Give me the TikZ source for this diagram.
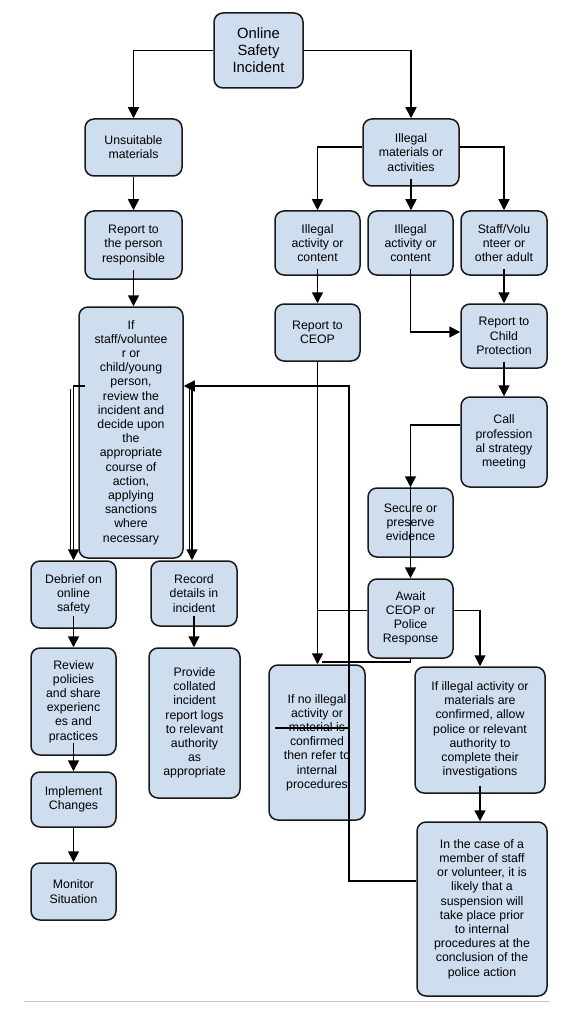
\documentclass[tikz,border=0pt]{standalone}
\usepackage{fontspec}
\setmainfont{Liberation Sans}
\usetikzlibrary{arrows.meta}
\definecolor{boxblue}{RGB}{206,222,239}
\definecolor{edgec}{RGB}{25,25,25}
\begin{document}
\begin{tikzpicture}[x=1pt,y=-1pt,
  box/.style={draw=edgec,fill=boxblue,rounded corners=9pt,line width=1.5pt,align=center,inner sep=0pt,
    font=\fontsize{12.3}{14.2}\selectfont},
  conn/.style={draw=black,line width=1.6pt},
  arr/.style={conn,-{Triangle[length=11pt,width=11pt]}}]
\useasboundingbox (0,0) rectangle (574,1024);
\fill[white] (0,0) rectangle (574,1024);

% nodes
\node[box,minimum width=89pt,minimum height=75pt,font=\fontsize{14.8}{17}\selectfont] (online) at (258.5,50.5) {Online\\Safety\\Incident};
\node[box,minimum width=97pt,minimum height=57pt] (unsuit) at (133.5,147.5) {Unsuitable\\materials};
\node[box,minimum width=96pt,minimum height=67pt] (illmat) at (411,152.5) {Illegal\\materials or\\activities};
\node[box,minimum width=97pt,minimum height=68pt] (report) at (133.5,245) {Report to\\the person\\responsible};
\node[box,minimum width=85pt,minimum height=64pt] (ill1) at (317.5,243) {Illegal\\activity or\\content};
\node[box,minimum width=85pt,minimum height=64pt] (ill2) at (410.5,243) {Illegal\\activity or\\content};
\node[box,minimum width=86pt,minimum height=64pt] (ill3) at (504,243) {Staff/Volu\\nteer or\\other adult};
\node[box,minimum width=85pt,minimum height=57pt] (ceop) at (317.5,332.5) {Report to\\CEOP};
\node[box,minimum width=86pt,minimum height=64pt] (cp) at (504,336) {Report to\\Child\\Protection};
\node[box,minimum width=104pt,minimum height=251pt] (big) at (131,432.5) {If\\staff/voluntee\\r or\\child/young\\person,\\review the\\incident and\\decide upon\\the\\appropriate\\course of\\action,\\applying\\sanctions\\where\\necessary};
\node[box,minimum width=86pt,minimum height=90pt] (call) at (504,442) {Call\\profession\\al strategy\\meeting};
\node[box,minimum width=85pt,minimum height=69pt] (secure) at (410.5,522.5) {Secure or\\preserve\\evidence};
\node[box,minimum width=85pt,minimum height=79pt] (await) at (410.5,618.5) {Await\\CEOP or\\Police\\Response};
\node[box,minimum width=85pt,minimum height=67pt] (debrief) at (73.5,594.5) {Debrief on\\online\\safety};
\node[box,minimum width=86pt,minimum height=65pt] (record) at (194,593.5) {Record\\details in\\incident};
\node[box,minimum width=85pt,minimum height=107pt] (review) at (73.5,701.5) {Review\\policies\\and share\\experienc\\es and\\practices};
\node[box,minimum width=91pt,minimum height=150pt] (provide) at (194.5,723) {Provide\\collated\\incident\\report logs\\to relevant\\authority\\as\\appropriate};
\node[box,minimum width=85pt,minimum height=55pt] (implement) at (73.5,799.5) {Implement\\Changes};
\node[box,minimum width=85pt,minimum height=57pt] (monitor) at (73.5,891.5) {Monitor\\Situation};
\node[box,minimum width=96pt,minimum height=155pt] (noill) at (317,742.5) {If no illegal\\activity or\\material is\\confirmed\\then refer to\\internal\\procedures};
\node[box,minimum width=130pt,minimum height=126pt] (conf) at (480,730) {If illegal activity or\\materials are\\confirmed, allow\\police or relevant\\authority to\\complete their\\investigations};
\node[box,minimum width=130pt,minimum height=174pt] (case) at (482,909) {In the case of a\\member of staff\\or volunteer, it is\\likely that a\\suspension  will\\take place prior\\to internal\\procedures at the\\conclusion of the\\police action};

% helper coordinates
\coordinate (turn) at (349,386);
\coordinate (ltap) at (85,386);
\coordinate (rtap) at (192,386);
\coordinate (awl) at ([yshift=8pt]await.west);
\coordinate (awr) at ([yshift=8pt]await.east);
\coordinate (ill2s) at ([yshift=7pt]ill2.south);

% connectors
\draw[arr] (online.west) -| (unsuit.north);
\draw[arr] (online.east) -| (illmat.north);
\draw[arr] (unsuit.south) -- (report.north);
\draw[arr] ([yshift=5.5pt]illmat.west) -| (ill1.north);
\draw[arr] ([yshift=5.5pt]illmat.east) -| (ill3.north);
\draw[arr] ([yshift=8pt]illmat.south) -- (illmat.south |- ill2.north);
\draw[arr] ([yshift=10pt]report.south) -- (report.south |- big.north);
\draw[arr] ([yshift=7pt]ill1.south) -- (ceop.north);
\draw[arr] ([yshift=7pt]ill3.south) -- (cp.north);
\draw[arr] (ill2s) |- ([yshift=4pt]cp.west);
\draw[arr] ([yshift=7pt]cp.south) -- (call.north);
\draw[arr] ([yshift=17pt]call.west) -| (secure.north);
\draw[arr] (secure.north) -- (await.north);
\draw[arr] (ceop.south) -- (ceop.south |- noill.north);
\draw[conn] (awl) -- (ceop.south |- awl);
\draw[arr] (awr) -| (conf.north);
\draw[conn] (await.south) |- ([xshift=5pt,yshift=2pt]noill.north);
\draw[arr] ([yshift=8pt]conf.south) -- (conf.south |- case.north);
\draw[arr] ([yshift=28pt]case.west) -| (turn) -- (big.east |- turn);
\draw[arr] (rtap) -- (rtap |- record.north);
\draw[arr] (ltap) -| (debrief.north);
\draw[arr] ([yshift=13pt]debrief.south) -- (review.north);
\draw[arr] ([yshift=13pt]review.south) -- (implement.north);
\draw[arr] (implement.south) -- (monitor.north);
\draw[arr] ([yshift=11pt]record.south) -- (record.south |- provide.north);

% stray lines visible in the picture
\draw[conn,line width=1pt] (70.5,389) -- (70.5,552);
\draw[conn,line width=1pt] (189.5,389) -- (189.5,552);
\draw[conn] (275,728) -- (350,728);
\draw[draw={rgb,255:red,200;green,200;blue,200},line width=1pt] (24,1001) -- (550,1001);
\end{tikzpicture}
\end{document}
